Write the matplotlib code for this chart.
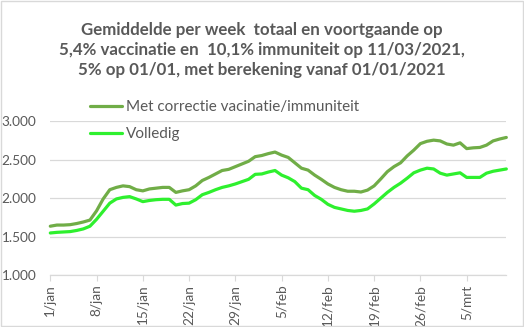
import matplotlib.pyplot as plt
from matplotlib.patches import Rectangle
from matplotlib.ticker import FuncFormatter

# days since 1 januari 2021
days = list(range(70))

met_correctie = [1635, 1650, 1650, 1655, 1670, 1690, 1715, 1835, 1990, 2110,
                 2140, 2160, 2150, 2110, 2095, 2120, 2130, 2140, 2140, 2075,
                 2095, 2110, 2160, 2230, 2270, 2315, 2360, 2375, 2410, 2445,
                 2480, 2540, 2555, 2580, 2600, 2560, 2530, 2460, 2390, 2365,
                 2300, 2245, 2185, 2140, 2110, 2090, 2090, 2080, 2105, 2160,
                 2250, 2345, 2410, 2460, 2550, 2625, 2710, 2740, 2755, 2745,
                 2705, 2690, 2720, 2645, 2655, 2660, 2690, 2745, 2770, 2790]

volledig = [1547, 1555, 1560, 1565, 1580, 1600, 1635, 1725, 1830, 1935,
            1990, 2010, 2020, 1990, 1955, 1970, 1980, 1985, 1985, 1910,
            1930, 1935, 1980, 2045, 2075, 2110, 2140, 2160, 2185, 2215,
            2245, 2310, 2315, 2340, 2360, 2300, 2265, 2215, 2130, 2110,
            2035, 1985, 1920, 1880, 1860, 1840, 1830, 1840, 1860, 1925,
            2000, 2075, 2140, 2195, 2260, 2330, 2365, 2390, 2380, 2325,
            2300, 2315, 2330, 2270, 2270, 2270, 2325, 2350, 2365, 2380]

tick_days = [0, 7, 14, 21, 28, 35, 42, 49, 56, 63]
tick_labels = ["1/jan", "8/jan", "15/jan", "22/jan", "29/jan",
               "5/feb", "12/feb", "19/feb", "26/feb", "5/mrt"]

grey = "#595959"
plt.rcParams['font.family'] = ['Lato', 'DejaVu Sans']

fig = plt.figure(figsize=(5.24, 3.27), dpi=100)
ax = fig.add_axes([0.096, 0.159, 0.869, 0.47])

l1, = ax.plot(days, met_correctie, color="#70AD47", lw=2.3, solid_capstyle="round")
l2, = ax.plot(days, volledig, color="#2EF02E", lw=2.3, solid_capstyle="round")

ax.set_xlim(0, 68.9)
ax.set_ylim(1000, 3000)
ax.set_yticks([1000, 1500, 2000, 2500, 3000])
ax.yaxis.set_major_formatter(FuncFormatter(lambda v, p: f"{v:,.0f}".replace(",", ".")))
ax.set_xticks(tick_days)
ax.set_xticklabels(tick_labels, rotation=90)
ax.grid(axis="y", color="#D9D9D9", lw=0.9)
ax.set_axisbelow(True)
for s in ["top", "right", "left"]:
    ax.spines[s].set_visible(False)
ax.spines["bottom"].set_color("#D9D9D9")
ax.spines["bottom"].set_linewidth(0.9)
ax.tick_params(axis="y", length=0, colors=grey, labelsize=9.8, pad=10)
ax.tick_params(axis="x", length=4, color="#D9D9D9", colors=grey, labelsize=9.8, pad=3)
ax.tick_params(axis="x", labelcolor=grey)
l1.set_clip_on(False)
l2.set_clip_on(False)

fig.legend([l1, l2], ["Met correctie vacinatie/immuniteit", "Volledig"],
           loc="upper left", bbox_to_anchor=(0.145, 0.735), frameon=False,
           fontsize=11, labelcolor=grey, handlelength=2.1, handletextpad=0.3,
           labelspacing=0.83)

fig.text(0.5, 0.934, "Gemiddelde per week  totaal en voortgaande op\n"
         "5,4% vaccinatie en  10,1% immuniteit op 11/03/2021,\n"
         "5% op 01/01, met berekening vanaf 01/01/2021",
         ha="center", va="top", fontsize=12.2, fontweight="bold", color=grey,
         linespacing=1.33)

fig.add_artist(Rectangle((0.001, 0.002), 0.997, 0.995, transform=fig.transFigure,
                         fill=False, edgecolor="#D9D9D9", lw=1))

fig.savefig("out.png", dpi=100)
